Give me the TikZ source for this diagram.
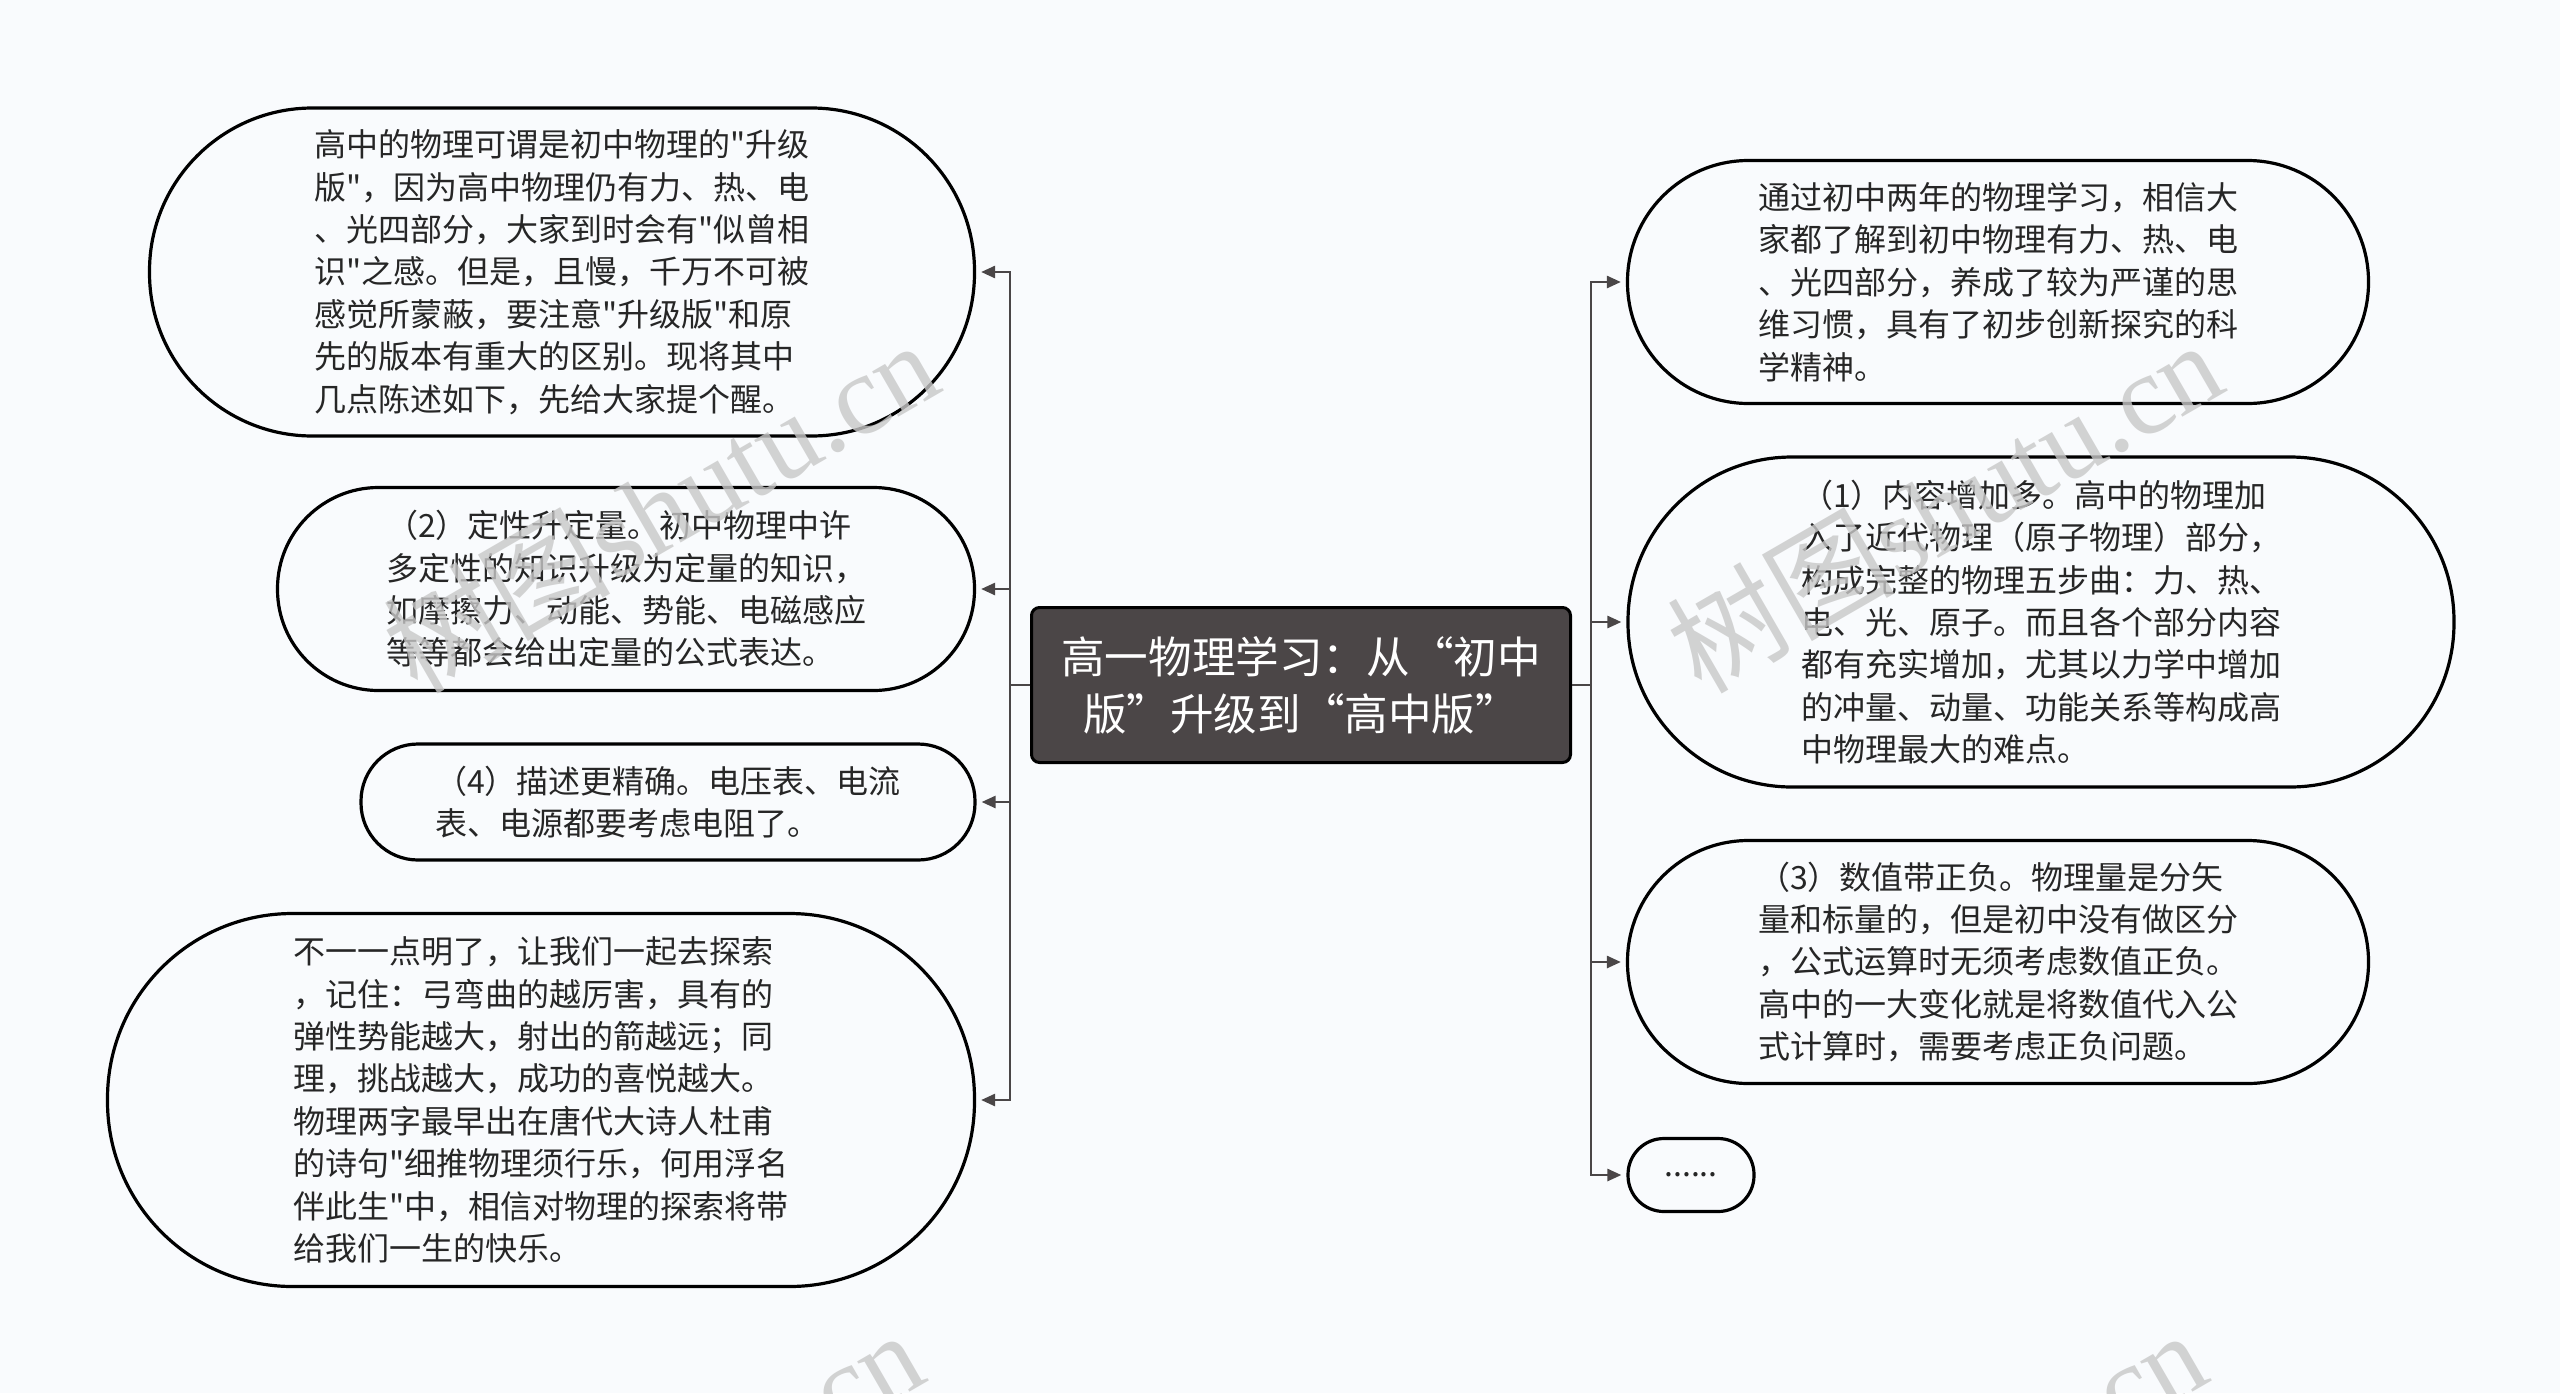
\documentclass[tikz,border=0pt]{standalone}
\usepackage{fontspec}
\newfontfamily\cjk{Noto Sans CJK SC}
\newfontfamily\cjkfw[RawFeature=+fwid]{Noto Sans CJK SC}
\newfontfamily\wmlatin{Liberation Serif}
\usetikzlibrary{arrows.meta}
\definecolor{bgc}{RGB}{249,251,253}
\definecolor{txtc}{RGB}{38,38,38}
\definecolor{linec}{RGB}{74,70,71}
\definecolor{rootc}{RGB}{75,70,71}
\definecolor{wmc}{RGB}{200,200,200}
\newcommand\qop{{\cjkfw “}}
\newcommand\qcl{{\cjkfw ”}}
\begin{document}
\begin{tikzpicture}[x=0.5pt,y=-0.5pt,
  leaf/.style={draw=black, line width=1.6pt, fill=bgc, text=txtc, align=left, inner sep=0pt,
    font=\cjk\fontsize{16pt}{21.2pt}\selectfont},
  rootbox/.style={draw=black, line width=1.5pt, fill=rootc, text=white, align=center,
    rounded corners=4pt, inner sep=0pt, font=\cjk\fontsize{21.8pt}{28.5pt}\selectfont},
  conn/.style={draw=linec, line width=1.3pt, -{Triangle[length=7pt,width=6pt]}, shorten >=2.5pt},
  wm/.style={text=wmc, text opacity=0.8, rotate=30, inner sep=0pt, font=\cjk\fontsize{57pt}{57pt}\selectfont}]
\fill[bgc] (0,0) rectangle (2560,1393);
\useasboundingbox (0,0) rectangle (2560,1393);

\node[rootbox, minimum width=269.5pt, minimum height=77.5pt] (c) at (1301,685)
  {高一物理学习：从\qop 初中\\版\qcl 升级到\qop 高中版\qcl};

% left side
\node[leaf, minimum width=412.5pt, minimum height=164pt, rounded corners=81.5pt] (A) at (562,272)
  {高中的物理可谓是初中物理的"升级\\版"，因为高中物理仍有力、热、电\\、光四部分，大家到时会有"似曾相\\识"之感。但是，且慢，千万不可被\\感觉所蒙蔽，要注意"升级版"和原\\先的版本有重大的区别。现将其中\\几点陈述如下，先给大家提个醒。};
\node[leaf, minimum width=348.5pt, minimum height=101.5pt, rounded corners=50.5pt] (B) at (626,589)
  {（2）定性升定量。初中物理中许\\多定性的知识升级为定量的知识，\\如摩擦力、动能、势能、电磁感应\\等等都会给出定量的公式表达。};
\node[leaf, minimum width=307pt, minimum height=58pt, rounded corners=28.5pt] (C) at (668,802)
  {（4）描述更精确。电压表、电流\\表、电源都要考虑电阻了。};
\node[leaf, minimum width=433.5pt, minimum height=186.5pt, rounded corners=92.5pt] (D) at (541,1100)
  {不一一点明了，让我们一起去探索\\，记住：弓弯曲的越厉害，具有的\\弹性势能越大，射出的箭越远；同\\理，挑战越大，成功的喜悦越大。\\物理两字最早出在唐代大诗人杜甫\\的诗句"细推物理须行乐，何用浮名\\伴此生"中，相信对物理的探索将带\\给我们一生的快乐。};

% right side
\node[leaf, minimum width=370.5pt, minimum height=121.5pt, rounded corners=60.5pt] (E) at (1998,282)
  {通过初中两年的物理学习，相信大\\家都了解到初中物理有力、热、电\\、光四部分，养成了较为严谨的思\\维习惯，具有了初步创新探究的科\\学精神。\hspace*{8pt}};
\node[leaf, minimum width=413pt, minimum height=165pt, rounded corners=82pt] (F) at (2041,622)
  {（1）内容增加多。高中的物理加\\入了近代物理（原子物理）部分，\\构成完整的物理五步曲：力、热、\\电、光、原子。而且各个部分内容\\都有充实增加，尤其以力学中增加\\的冲量、动量、功能关系等构成高\\中物理最大的难点。};
\node[leaf, minimum width=370.5pt, minimum height=121.5pt, rounded corners=60.5pt] (G) at (1998,962)
  {（3）数值带正负。物理量是分矢\\量和标量的，但是初中没有做区分\\，公式运算时无须考虑数值正负。\\高中的一大变化就是将数值代入公\\式计算时，需要考虑正负问题。};
\node[leaf, minimum width=63pt, minimum height=36.5pt, rounded corners=18pt, align=center] (H) at (1691,1175)
  {......};

% connectors
\draw[conn] (c.west) -- ++(-20,0) |- (A.east);
\draw[conn] (c.west) -- ++(-20,0) |- (B.east);
\draw[conn] (c.west) -- ++(-20,0) |- (C.east);
\draw[conn] (c.west) -- ++(-20,0) |- (D.east);
\draw[conn] (c.east) -- ++(19,0) |- (E.west);
\draw[conn] (c.east) -- ++(19,0) |- (F.west);
\draw[conn] (c.east) -- ++(19,0) |- (G.west);
\draw[conn] (c.east) -- ++(19,0) |- (H.west);

% watermarks
\begin{scope}
\clip (0,0) rectangle (2560,1393);
\node[wm] (w1) at (660,505) {树图{\wmlatin shutu.cn}};
\node[wm] (w2) at (1944,505) {树图{\wmlatin shutu.cn}};
\node[wm] (w3) at (645,1495) {树图{\wmlatin shutu.cn}};
\node[wm] (w4) at (1928,1495) {树图{\wmlatin shutu.cn}};
\end{scope}
\end{tikzpicture}
\end{document}
